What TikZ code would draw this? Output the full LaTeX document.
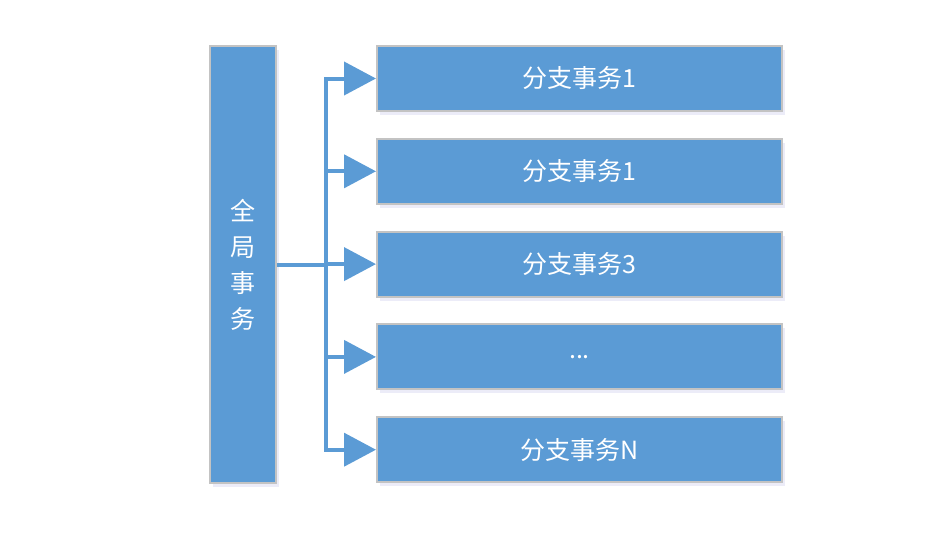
\documentclass[tikz,border=0pt]{standalone}
\usepackage{fontspec}
\newfontfamily\cjk{Noto Sans CJK SC}
\usetikzlibrary{arrows.meta,shadows}

\definecolor{boxblue}{HTML}{5B9BD5}
\definecolor{boxedge}{HTML}{C3C3C3}
\newcommand{\etcdots}{...}

\tikzstyle{task}=[rectangle, fill=boxblue, draw=boxedge, line width=2pt, text=white,
	drop shadow={shadow xshift=3pt, shadow yshift=-4pt, opacity=0.10, fill=blue!50!gray}]
\tikzstyle{branch}=[task, minimum width=405pt, minimum height=65pt, font=\cjk\fontsize{25}{28}\selectfont]
\tikzstyle{global}=[task, minimum width=66pt, minimum height=437pt, align=center, font=\cjk\fontsize{25}{36}\selectfont]
\tikzstyle{link}=[boxblue, line width=4pt]

\begin{document}
\begin{tikzpicture}[x=1pt, y=-1pt]
	\useasboundingbox (0,0) rectangle (929,547);

	% global transaction
	\node[global] (global) at (243, 264.5) {全\\局\\事\\务};

	% branch transactions
	\foreach \i/\t in {1/分支事务1, 2/分支事务1, 3/分支事务3, 4/\etcdots, 5/分支事务N}{
		\node[branch] (branch\i) at (579.5, {78.5+92.8*(\i-1)}) {\t};
	}

	% connectors
	\coordinate (split) at (326, 264.5);
	\draw[link] (global.east |- split) -- (split);
	\foreach \i in {1,...,5}{
		\draw[link, -{Triangle[length=32pt, width=33pt]}] (split) |- (branch\i.west);
	}
\end{tikzpicture}
\end{document}
